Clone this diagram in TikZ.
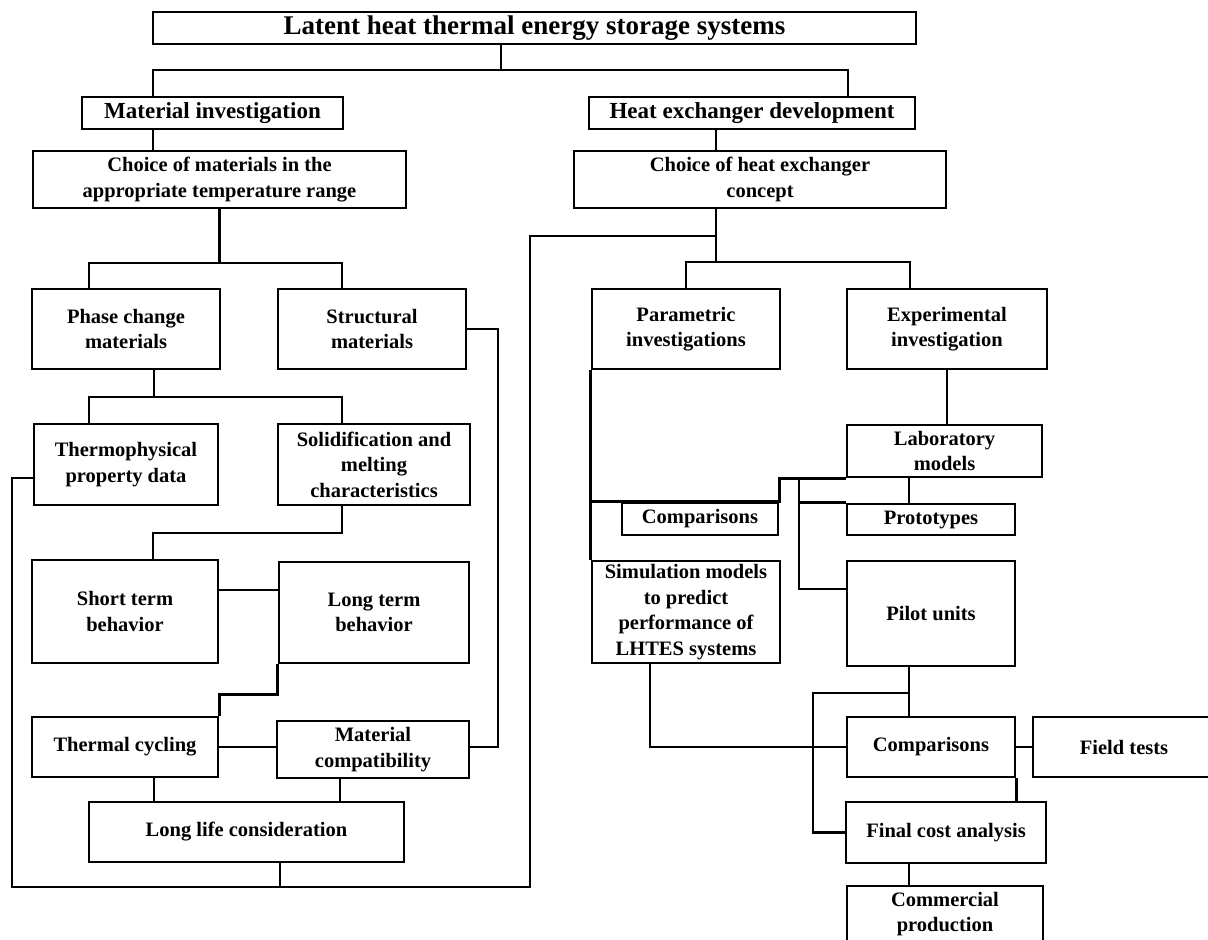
\documentclass[tikz,border=0pt]{standalone}
\usepackage{fontspec}
\setmainfont{Liberation Serif}
\begin{document}
\begin{tikzpicture}[x=1pt,y=-1pt,line join=miter,
  box/.style={draw,line width=2.8pt,inner sep=0pt,align=center,
    font=\fontsize{20.5}{25.5}\selectfont\bfseries},
  hbox/.style={box,font=\fontsize{23}{27}\selectfont\bfseries},
  tbox/.style={box,font=\fontsize{27}{30}\selectfont\bfseries},
  conn/.style={line width=2.7pt}]
\clip (0,0) rectangle (1208,940);
\fill[white] (0,0) rectangle (1208,940);

% ---- nodes (center x, center y; width x height in px)
\node[tbox,minimum width=763,minimum height=32] (title) at (534.5,28) {Latent heat thermal energy storage systems};
\node[hbox,minimum width=261,minimum height=32] (matinv) at (212.5,113) {Material investigation};
\node[hbox,minimum width=326,minimum height=32] (hexdev) at (752,113) {Heat exchanger development};
\node[box,minimum width=373,minimum height=57] (choicemat) at (219.5,179.5) {Choice of materials in the\\appropriate temperature range};
\node[box,minimum width=372,minimum height=57] (choicehx) at (760,179.5) {Choice of heat exchanger\\concept};
\node[box,minimum width=188,minimum height=80] (pcm) at (126,329) {Phase change\\materials};
\node[box,minimum width=188,minimum height=80] (struct) at (372,329) {Structural\\materials};
\node[box,minimum width=184,minimum height=81] (thermo) at (126,464.5) {Thermophysical\\property data};
\node[box,minimum width=192,minimum height=81] (solid) at (374,464.5) {Solidification and\\melting\\characteristics};
\node[box,minimum width=186,minimum height=103] (short) at (125,611.5) {Short term\\behavior};
\node[box,minimum width=190,minimum height=101] (long) at (374,612.5) {Long term\\behavior};
\node[box,minimum width=186,minimum height=60] (cycling) at (125,747) {Thermal cycling};
\node[box,minimum width=192,minimum height=57] (compat) at (373,749.5) {Material\\compatibility};
\node[box,minimum width=315,minimum height=60] (longlife) at (246.5,832) {Long life consideration};
\node[box,minimum width=188,minimum height=80] (param) at (686,329) {Parametric\\investigations};
\node[box,minimum width=200,minimum height=80] (exper) at (947,329) {Experimental\\investigation};
\node[box,minimum width=195,minimum height=52] (lab) at (944.5,451) {Laboratory\\models};
\node[box,minimum width=156,minimum height=32] (comp1) at (700,519) {Comparisons};
\node[box,minimum width=168,minimum height=31] (proto) at (931,519.5) {Prototypes};
\node[box,minimum width=188,minimum height=102] (sim) at (686,612) {Simulation models\\to predict\\performance of\\LHTES systems};
\node[box,minimum width=168,minimum height=105] (pilot) at (931,613.5) {Pilot units};
\node[box,minimum width=168,minimum height=60] (comp2) at (931,747) {Comparisons};
\node[box,minimum width=182,minimum height=60] (field) at (1124,747) {Field tests};
\node[box,minimum width=200,minimum height=61] (final) at (946,832.5) {Final cost analysis};
\node[box,minimum width=196,minimum height=56] (commercial) at (945,914) {Commercial\\production};

% ---- junction coordinates
\coordinate (b1l) at (153,70);
\coordinate (b1m) at (501,70);
\coordinate (b1r) at (848,70);
\coordinate (xhx) at (716,236);
\coordinate (b2l) at (89,263);
\coordinate (b2r) at (342,263);
\coordinate (b3l) at (686,262);
\coordinate (b3r) at (910,262);
\coordinate (lpa) at (530,236);
\coordinate (lpb) at (530,887);
\coordinate (lpc) at (12,887);
\coordinate (lpd) at (12,478);
\coordinate (lpe) at (280,887);
\coordinate (b4m) at (154,397);
\coordinate (b4l) at (89,397);
\coordinate (b4r) at (342,397);
\coordinate (b5r) at (342,533);
\coordinate (b5l) at (153,533);
\coordinate (y590) at (250,590);
\coordinate (sr2) at (498,747);
\coordinate (x340) at (340,790);
\coordinate (p1) at (799,478);
\coordinate (p2) at (799,589);
\coordinate (x909) at (909,490);
\coordinate (s1) at (650,747);
\coordinate (f1) at (813,693);

% ---- connectors
\draw[conn] (title.south -| b1m) -- (b1m);
\draw[conn] (matinv.north -| b1l) -- (b1l) -- (b1r) -- (hexdev.north -| b1r);
\draw[conn] (matinv.south -| b1l) -- (choicemat.north -| b1l);
\draw[conn] (hexdev.south -| xhx) -- (choicehx.north -| xhx);
\draw[conn] (choicemat.south) -- (choicemat.south |- b2l);
\draw[conn] (pcm.north -| b2l) -- (b2l) -- (b2r) -- (struct.north -| b2r);
\draw[conn] (choicehx.south -| xhx) -- (xhx) -- (xhx |- b3l);
\draw[conn] (param.north -| b3l) -- (b3l) -- (b3r) -- (exper.north -| b3r);
\draw[conn] (xhx) -- (lpa) -- (lpb) -- (lpc) -- (lpd) -- (lpd -| thermo.west);
\draw[conn] (longlife.south -| lpe) -- (lpe);
\draw[conn] (pcm.south -| b4m) -- (b4m);
\draw[conn] (thermo.north -| b4l) -- (b4l) -- (b4r) -- (solid.north -| b4r);
\draw[conn] (solid.south -| b5r) -- (b5r) -- (b5l) -- (short.north -| b5l);
\draw[conn] (short.east |- y590) -- (long.west |- y590);
\draw[conn] (long.south west) -- ++(0,30) -| (cycling.north east);
\draw[conn] (cycling.east) -- (cycling.east -| compat.west);
\draw[conn] (struct.east) -| (sr2) -- (sr2 -| compat.east);
\draw[conn] (cycling.south -| b4m) -- (longlife.north -| b4m);
\draw[conn] (compat.south -| x340) -- (longlife.north -| x340);
\draw[conn] (exper.south) -- (exper.south |- lab.north);
\draw[conn] (param.south west) -- (sim.north west);
\draw[conn] (param.south west |- comp1.north) -- (comp1.north east) -- (comp1.north east |- lab.south) -- (lab.south west);
\draw[conn] (p1 |- lab.south) -- (p2) -- (p2 -| pilot.west);
\draw[conn] (p1 |- proto.north) -- (proto.north west);
\draw[conn] (lab.south -| x909) -- (proto.north -| x909);
\draw[conn] (sim.south -| s1) -- (s1) -- (comp2.west);
\draw[conn] (pilot.south -| x909) -- (comp2.north -| x909);
\draw[conn] (f1 -| x909) -- (f1) -- (f1 |- final.west) -- (final.west);
\draw[conn] (comp2.east) -- (field.west);
\draw[conn] (comp2.south east) -- (comp2.south east |- final.north);
\draw[conn] (final.south -| x909) -- (commercial.north -| x909);
\end{tikzpicture}
\end{document}
